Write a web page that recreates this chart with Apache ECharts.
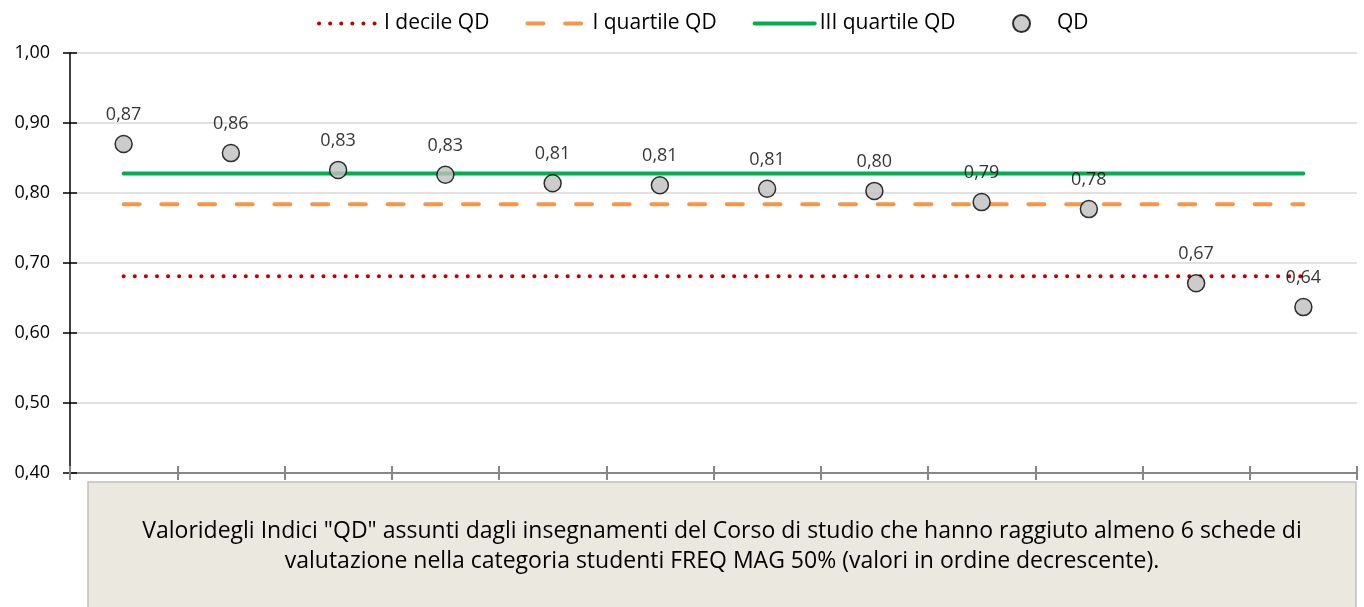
<!DOCTYPE html>
<html>
<head>
<meta charset="utf-8">
<script src="https://cdn.jsdelivr.net/npm/echarts@6/dist/echarts.min.js"></script>
<style>
  html, body { margin: 0; padding: 0; background: #fff; }
  #chart { width: 1364px; height: 607px; }
</style>
</head>
<body>
<div id="chart"></div>
<script>
//dati
var categories = ['1', '2', '3', '4', '5', '6', '7', '8', '9', '10', '11', '12'];
var qdValues = [0.870, 0.857, 0.833, 0.826, 0.814, 0.811, 0.806, 0.803, 0.787, 0.777, 0.671, 0.637];
var decileQD = 0.681;
var quartile1QD = 0.784;
var quartile3QD = 0.828;
var seriesNames = ['I decile QD', 'I quartile QD', 'III quartile QD', 'QD'];
var noteText = 'Valoridegli Indici "QD" assunti dagli insegnamenti del Corso di studio che hanno raggiuto almeno 6 schede di\nvalutazione nella categoria studenti FREQ MAG 50% (valori in ordine decrescente).';

var font = '"Open Sans", sans-serif';
var redDot = { color: '#c00000', width: 4, type: [0.1, 11], cap: 'round' };
var orangeDash = { color: '#f79646', width: 4, type: [16, 21.7], cap: 'round' };
var greenLine = { color: '#00b050', width: 4, type: 'solid', cap: 'round' };

function fmt(v) {
  return v.toFixed(2).replace('.', ',');
}

//linea costante sulle categorie
function flat(v) {
  return categories.map(function () { return v; });
}

function lineLegendItem(name, style) {
  return { name: name, itemStyle: { opacity: 0 }, lineStyle: style };
}

function renderChart() {
  var myChart = echarts.init(document.getElementById('chart'));
  var legendText = { fontFamily: font, fontSize: 21, color: '#000' };
  var options = {
    backgroundColor: '#fff',
    animation: false,
    textStyle: { fontFamily: font },
    legend: [{
      top: 8,
      left: 312,
      itemWidth: 60,
      itemHeight: 17,
      itemGap: 36,
      data: [
        lineLegendItem(seriesNames[0], redDot),
        lineLegendItem(seriesNames[1], orangeDash),
        lineLegendItem(seriesNames[2], greenLine)
      ],
      textStyle: legendText
    }, {
      top: 8,
      left: 1007,
      itemWidth: 17,
      itemHeight: 17,
      data: [seriesNames[3]],
      textStyle: Object.assign({ padding: [0, 0, 0, 22] }, legendText)
    }],
    grid: { left: 70, right: 7, top: 53, bottom: 134 },
    xAxis: [{
      type: 'category',
      data: categories,
      boundaryGap: true,
      axisLine: { lineStyle: { color: '#868686', width: 2 } },
      axisTick: { show: true, length: 7, lineStyle: { color: '#868686', width: 2 } },
      axisLabel: { show: false }
    }, {
      type: 'category',
      data: categories,
      position: 'bottom',
      boundaryGap: true,
      axisLine: { show: false },
      axisTick: { show: true, inside: true, length: 7, lineStyle: { color: '#868686', width: 2 } },
      axisLabel: { show: false }
    }],
    yAxis: [{
      type: 'value',
      min: 0.4,
      max: 1.0,
      interval: 0.1,
      axisLine: { show: true, lineStyle: { color: '#000', width: 1.5 } },
      axisTick: { show: true, length: 7, lineStyle: { color: '#000', width: 1.5 } },
      axisLabel: { fontFamily: font, fontSize: 18, color: '#000', margin: 20, formatter: fmt },
      splitLine: { lineStyle: { color: '#d9d9d9', width: 1.5 } }
    }, {
      type: 'value',
      min: 0.4,
      max: 1.0,
      interval: 0.1,
      position: 'left',
      axisLine: { show: false },
      axisTick: { show: true, inside: true, length: 7, lineStyle: { color: '#000', width: 1.5 } },
      axisLabel: { show: false },
      splitLine: { show: false }
    }],
    series: [{
      name: seriesNames[0],
      type: 'line',
      data: flat(decileQD),
      symbol: 'none',
      lineStyle: redDot,
      itemStyle: { color: '#c00000' },
      z: 2
    }, {
      name: seriesNames[1],
      type: 'line',
      data: flat(quartile1QD),
      symbol: 'none',
      lineStyle: orangeDash,
      itemStyle: { color: '#f79646' },
      z: 2
    }, {
      name: seriesNames[2],
      type: 'line',
      data: flat(quartile3QD),
      symbol: 'none',
      lineStyle: greenLine,
      itemStyle: { color: '#00b050' },
      z: 2
    }, {
      name: seriesNames[3],
      type: 'scatter',
      data: qdValues,
      symbol: 'circle',
      symbolSize: 17,
      itemStyle: { color: '#bfbfbf', borderColor: '#000', borderWidth: 1.5 },
      label: {
        show: true,
        position: 'top',
        distance: 11,
        fontFamily: font,
        fontSize: 18,
        color: '#000',
        formatter: function (p) { return fmt(p.value); }
      },
      z: 3
    }],
    graphic: [{
      type: 'rect',
      shape: { x: 88, y: 482, width: 1268, height: 130 },
      style: { fill: '#ebe9df', stroke: '#bfbfbf', lineWidth: 1.5 },
      z: 10
    }, {
      type: 'text',
      x: 722,
      y: 546,
      style: {
        text: noteText,
        fontFamily: font,
        fontSize: 23,
        lineHeight: 30,
        fill: '#000',
        align: 'center',
        verticalAlign: 'middle'
      },
      z: 11
    }]
  };
  myChart.setOption(options, true);
}

renderChart();
</script>
</body>
</html>
